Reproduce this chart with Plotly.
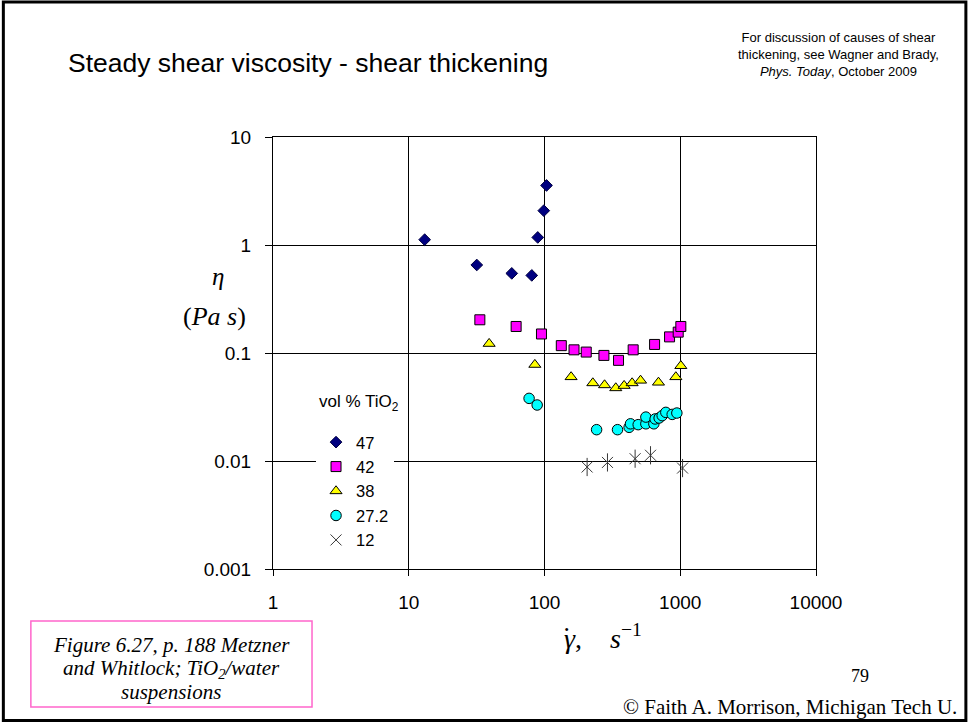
import plotly.graph_objects as go

# Shear rate (1/s) and viscosity (Pa s) for each TiO2 volume fraction
x_47 = [13.1, 31.7, 57.4, 80.6, 89.2, 98.8, 103.5]
y_47 = [1.12, 0.653, 0.546, 0.523, 1.175, 2.08, 3.56]

x_42 = [33.4, 61.8, 95.0, 133, 165, 203, 274, 351, 450, 647, 834, 966, 1010]
y_42 = [0.203, 0.176, 0.150, 0.117, 0.107, 0.102, 0.095, 0.0855, 0.107, 0.120, 0.141, 0.156, 0.176]

x_38 = [39.1, 84.9, 157, 227, 277, 335, 386, 442, 510, 691, 928, 1010]
y_38 = [0.122, 0.078, 0.060, 0.0527, 0.0505, 0.0474, 0.0498, 0.0527, 0.0557, 0.0534, 0.060, 0.076]

x_27 = [77.0, 88.3, 242, 345, 420, 430, 490, 558, 558, 639, 653, 699, 736, 783, 872, 944]
y_27 = [0.038, 0.033, 0.0195, 0.0195, 0.0205, 0.0221, 0.0217, 0.0221, 0.0255, 0.0221,
        0.0245, 0.0250, 0.0263, 0.0282, 0.0270, 0.0278]

x_12 = [206, 291, 465, 604, 1040]
y_12 = [0.0088, 0.0097, 0.0105, 0.0113, 0.0086]

series_names = ["47", "42", "38", "27.2", "12"]

x_tickvals = [1, 10, 100, 1000, 10000]
x_ticktext = ["1", "10", "100", "1000", "10000"]
y_tickvals = [0.001, 0.01, 0.1, 1, 10]
y_ticktext = ["0.001", "0.01", "0.1", "1", "10"]

SANS = "Liberation Sans, Arial, sans-serif"
SERIF = "Liberation Serif, Times New Roman, serif"

W, H = 969, 723
L, R, T, B = 273, 815.7, 137.3, 569


def px(x):
    return (x - L) / (R - L)


def py(y):
    return (B - y) / (B - T)


STAR = "#383838"

fig = go.Figure()

fig.add_trace(go.Scatter(
    x=x_47, y=y_47, mode="markers", name=series_names[0],
    marker=dict(symbol="diamond", size=9, color="#000080",
                line=dict(color="#000040", width=1)),
))
fig.add_trace(go.Scatter(
    x=x_42, y=y_42, mode="markers", name=series_names[1],
    marker=dict(symbol="square", size=10, color="#ff00ff",
                line=dict(color="#000000", width=1)),
))
fig.add_trace(go.Scatter(
    x=x_38, y=y_38, mode="markers", name=series_names[2],
    marker=dict(symbol="triangle-up", size=10.5, color="#ffff00",
                line=dict(color="#000000", width=1)),
))
fig.add_trace(go.Scatter(
    x=x_27, y=y_27, mode="markers", name=series_names[3],
    marker=dict(symbol="circle", size=10.5, color="#00ffff",
                line=dict(color="#000000", width=1)),
))
fig.add_trace(go.Scatter(
    x=x_12, y=y_12, mode="markers", name=series_names[4],
    marker=dict(symbol="x-thin-open", size=11, color=STAR,
                line=dict(color=STAR, width=1)),
))
# vertical stroke completes the six-armed star marker
fig.add_trace(go.Scatter(
    x=x_12, y=y_12, mode="markers", showlegend=False,
    marker=dict(symbol="line-ns-open", size=13, color=STAR,
                line=dict(color=STAR, width=1)),
))

axis_common = dict(
    type="log",
    showgrid=True, gridcolor="#000000", gridwidth=1,
    showline=True, linecolor="#000000", linewidth=1, mirror=True,
    ticks="outside", tickcolor="#000000", tickwidth=1,
    tickfont=dict(family=SANS, size=19, color="#000000"),
    zeroline=False,
)

fig.update_xaxes(
    **axis_common, range=[0, 4], tickvals=x_tickvals, ticktext=x_ticktext,
    ticklen=6, ticklabelstandoff=10,
)
fig.update_yaxes(
    **axis_common, range=[-3, 1], tickvals=y_tickvals, ticktext=y_ticktext,
    ticklen=7, ticklabelstandoff=10,
)

annotations = [
    dict(text="Steady shear viscosity - shear thickening", x=px(66), y=py(63),
         xanchor="left", yanchor="middle", font=dict(family=SANS, size=26.5)),
    dict(text="For discussion of causes of shear<br>thickening, see Wagner and Brady,"
              "<br><i>Phys. Today</i>, October 2009",
         x=px(838), y=py(55), xanchor="center", yanchor="middle", align="center",
         font=dict(family=SANS, size=13)),
    dict(text="<i>η</i>", x=px(218), y=py(277), xanchor="center", yanchor="middle",
         font=dict(family=SERIF, size=25)),
    dict(text="(<i>Pa s</i>)", x=px(215), y=py(317), xanchor="center", yanchor="middle",
         font=dict(family=SERIF, size=26)),
    dict(text="<i>γ</i>,\u00a0\u00a0\u00a0\u00a0<i>s</i><sup>\u22121</sup>",
         x=px(603), y=py(636), xanchor="center", yanchor="middle",
         font=dict(family=SERIF, size=28)),
    # overdot of the shear-rate symbol
    dict(text="\u02d9", x=px(566), y=py(636), xanchor="center", yanchor="middle",
         font=dict(family=SERIF, size=28)),
    dict(text="vol % TiO<sub>2</sub>", x=px(317), y=py(403),
         xanchor="left", yanchor="middle", font=dict(family=SANS, size=17)),
    dict(text="<i>Figure 6.27, p. 188 Metzner</i>", x=px(171.5), y=py(645),
         xanchor="center", yanchor="middle", font=dict(family=SERIF, size=21)),
    dict(text="<i>and Whitlock; TiO<sub>2</sub>/water</i>", x=px(171.5), y=py(669),
         xanchor="center", yanchor="middle", font=dict(family=SERIF, size=21)),
    dict(text="<i>suspensions</i>", x=px(171.5), y=py(692),
         xanchor="center", yanchor="middle", font=dict(family=SERIF, size=21)),
    dict(text="79", x=px(860), y=py(676), xanchor="center", yanchor="middle",
         font=dict(family=SERIF, size=18)),
    dict(text="© Faith A. Morrison, Michigan Tech U.", x=px(959), y=py(707),
         xanchor="right", yanchor="middle", font=dict(family=SERIF, size=21)),
]
for a in annotations:
    a.update(xref="paper", yref="paper", showarrow=False)
    a["font"].setdefault("color", "#000000")

shapes = [
    # slide frame
    dict(type="rect", xref="paper", yref="paper",
         x0=px(3.5), x1=px(965.5), y0=py(2.5), y1=py(720.5),
         line=dict(color="#000000", width=3), fillcolor="rgba(0,0,0,0)", layer="above"),
    # caption box
    dict(type="rect", xref="paper", yref="paper",
         x0=px(31), x1=px(312), y0=py(621), y1=py(707),
         line=dict(color="#ff66cc", width=1.5), fillcolor="rgba(0,0,0,0)"),
]

fig.update_layout(
    width=W, height=H, autosize=False,
    margin=dict(l=L, r=W - R, t=T, b=H - B, pad=0),
    paper_bgcolor="#ffffff", plot_bgcolor="#ffffff",
    showlegend=True,
    legend=dict(
        x=px(316), y=py(425), xanchor="left", yanchor="top",
        bgcolor="#ffffff", borderwidth=0, tracegroupgap=0,
        font=dict(family=SANS, size=16.5, color="#000000"),
        itemclick=False, itemdoubleclick=False,
    ),
    annotations=annotations,
    shapes=shapes,
)

fig.write_html("out.html")
